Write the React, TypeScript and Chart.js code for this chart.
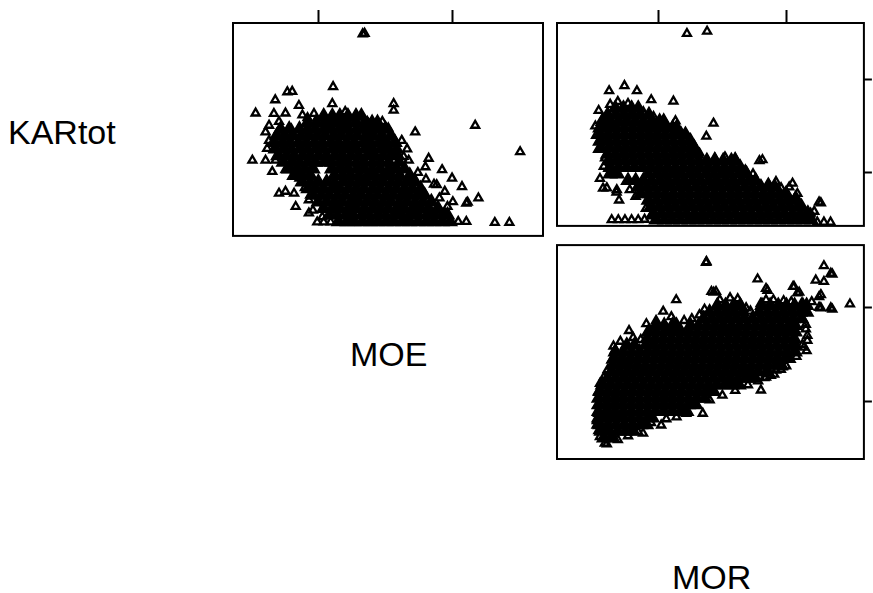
import React, { useEffect, useRef } from "react";
import { Chart, registerables } from "chart.js";

Chart.register(...registerables);

type Pair = [number, number];
type Row = [number, number[]];

// tick values (no labels are visible in the reference)
const moeTicks = [10, 15];
const morTicks = [50, 100];
const karTicks = [20, 30];

// ---------- KARtot (y) vs MOE (x): isolated / edge observations ----------
const karMoeSingles: Pair[] = [
  [11.65, 34.9], [11.72, 34.95],
  [8.85, 28.75], [9.03, 28.8], [10.55, 29.3], [8.4, 27.9], [7.67, 26.5], [8.35, 26.45], [8.78, 26.5],
  [9.28, 27.3], [10.52, 27.5], [9.41, 26.3], [9.84, 26.45], [11.0, 26.65], [11.82, 25.6], [12.38, 25.6],
  [11.87, 25.4], [8.17, 25.2], [8.54, 25.6], [8.04, 24.5], [8.17, 23.6], [8.1, 22.75], [7.55, 21.5],
  [8.04, 21.5], [8.41, 21.5], [8.29, 20.3], [8.78, 20.5], [9.16, 20.3], [8.54, 18.0], [8.78, 18.2],
  [9.1, 18.0], [9.16, 16.6], [9.65, 15.9], [10.15, 15.5], [9.96, 14.95], [10.2, 14.95], [10.46, 14.95],
  [9.65, 17.3], [12.8, 27.5], [12.8, 26.8], [13.6, 24.5], [15.83, 25.2], [17.5, 22.4], [14.1, 21.7],
  [13.98, 20.8], [14.6, 20.5], [14.97, 19.6], [14.4, 18.9], [14.3, 18.95], [15.34, 18.7], [14.7, 18.2],
  [15.0, 17.1], [15.5, 16.95], [15.55, 17.05], [15.95, 17.5], [14.7, 15.9], [15.2, 15.0], [16.56, 14.9],
  [17.1, 14.9], [13.17, 21.9], [13.36, 21.5], [13.9, 16.6], [14.2, 15.9],
  [9.6, 26.0], [10.2, 26.0], [10.9, 25.9], [11.4, 26.1], [12.0, 25.2], [12.6, 24.9], [13.1, 23.6],
  [13.3, 22.7], [13.7, 20.2], [14.0, 19.5], [14.5, 17.5], [14.8, 16.6], [15.5, 15.0], [9.0, 24.8],
  [8.6, 24.1], [8.5, 23.0], [8.55, 22.0], [8.9, 21.0], [9.3, 19.6], [9.5, 18.6], [9.7, 17.8],
  [9.8, 16.2], [10.75, 15.0], [11.05, 15.0],
];
// dense cluster: [KARtot, MOE values]
const karMoeClusterRows: Row[] = [
  [15.0, [10.75, 11.07, 11.33, 11.64, 11.93, 12.22, 12.52, 12.81, 13.12, 13.4, 13.71, 14.02, 14.3, 14.61, 14.9]],
  [15.7, [10.42, 10.71, 11.02, 11.3, 11.62, 11.9, 12.21, 12.5, 12.82, 13.1, 13.41, 13.7, 14.02, 14.3, 14.58, 14.8]],
  [16.4, [10.2, 10.52, 10.8, 11.12, 11.4, 11.71, 12.02, 12.3, 12.6, 12.92, 13.2, 13.52, 13.8, 14.1, 14.45]],
  [17.1, [10.0, 10.31, 10.62, 10.9, 11.22, 11.5, 11.81, 12.1, 12.42, 12.7, 13.02, 13.3, 13.61, 13.9, 14.2]],
  [17.8, [9.82, 10.12, 10.41, 10.72, 11.01, 11.32, 11.6, 11.91, 12.2, 12.51, 12.8, 13.11, 13.4, 13.7, 13.95]],
  [18.5, [9.62, 9.91, 10.2, 10.52, 10.8, 11.12, 11.41, 11.7, 12.02, 12.3, 12.61, 12.9, 13.21, 13.5, 13.8]],
  [19.2, [9.4, 9.71, 10.0, 10.31, 10.6, 10.92, 11.2, 11.51, 11.8, 12.12, 12.4, 12.72, 13.01, 13.3, 13.6]],
  [19.9, [9.1, 9.42, 9.7, 10.6, 10.91, 11.2, 11.52, 11.82, 12.1, 12.42, 12.7, 13.02, 13.4]],
  [20.6, [8.9, 9.21, 9.5, 9.8, 10.5, 10.81, 11.1, 11.42, 11.7, 12.01, 12.3, 12.62, 12.9, 13.2]],
  [21.3, [8.7, 9.02, 9.3, 9.61, 9.9, 10.22, 10.5, 10.81, 11.1, 11.42, 11.7, 12.02, 12.3, 12.62, 13.0]],
  [22.0, [8.5, 8.81, 9.1, 9.42, 9.7, 10.01, 10.3, 10.62, 10.9, 11.21, 11.5, 11.82, 12.1, 12.41, 12.7, 12.95]],
  [22.7, [8.4, 8.71, 9.0, 9.32, 9.6, 9.91, 10.2, 10.52, 10.8, 11.11, 11.4, 11.72, 12.0, 12.31, 12.6, 12.9]],
  [23.4, [8.35, 8.66, 8.95, 9.27, 9.55, 9.86, 10.15, 10.47, 10.75, 11.06, 11.35, 11.67, 11.95, 12.26, 12.55, 12.85]],
  [24.1, [8.45, 8.76, 9.05, 9.37, 9.65, 9.96, 10.25, 10.57, 10.85, 11.16, 11.45, 11.77, 12.05, 12.36, 12.7]],
  [24.8, [8.6, 8.92, 9.3, 9.61, 9.9, 10.22, 10.5, 10.81, 11.1, 11.42, 11.7, 12.0, 12.25, 12.5]],
  [25.5, [9.6, 9.91, 10.2, 10.52, 10.8, 11.11, 11.4, 11.72, 12.0, 12.2]],
  [26.2, [10.2, 10.52, 10.8, 11.1, 11.4, 11.6]],
];

// ---------- KARtot (y) vs MOR (x) ----------
const karMorSingles: Pair[] = [
  [61.1, 34.86], [69.0, 35.1], [30.6, 28.76], [36.6, 29.3], [41.5, 28.75], [26.5, 26.65], [47.1, 27.8],
  [55.8, 27.65], [71.5, 25.3], [68.7, 23.9], [56.6, 25.55], [26.3, 22.5], [27.0, 19.4], [89.5, 21.3],
  [90.7, 21.4], [112.9, 16.9], [113.6, 16.8], [109.6, 15.7], [111.0, 15.9], [112.2, 14.75], [114.8, 14.75],
  [117.4, 14.75], [31.6, 15.0], [34.2, 15.0], [36.8, 15.0], [39.4, 15.0], [42.0, 15.0], [44.5, 15.05],
  [28.2, 18.37], [29.7, 18.4], [33.5, 17.95], [33.6, 18.2], [38.7, 18.2], [34.5, 17.1], [96.0, 19.07],
  [101.2, 18.5], [102.5, 18.9], [104.4, 17.8], [103.8, 17.5],
  [28, 25.8], [31, 27.3], [34, 27.6], [38, 27.4], [44, 26.5], [48, 26.0], [52, 25.6], [58, 24.6],
  [62, 23.6], [64, 22.4], [66, 22.1], [72, 21.6], [76, 21.7], [80, 21.6], [84, 20.3], [87, 19.9],
  [93, 18.9], [98, 18.4], [106, 16.4], [108, 15.7], [43, 18.4], [41, 17.5], [45, 16.2], [47, 15.4],
  [25.5, 24.0], [25.2, 25.0], [28.5, 20.7], [29, 21.6],
];
// dense cluster: [KARtot, MOR values]
const karMorClusterRows: Row[] = [
  [15.0, [49, 52.3, 55.4, 58.6, 61.9, 65.0, 68.2, 71.5, 74.6, 77.8, 81.1, 84.2, 87.5, 90.6, 93.8, 97.0, 100.3, 103.4, 106.6, 109.8]],
  [15.7, [48, 51.2, 54.4, 57.7, 60.8, 64.1, 67.3, 70.4, 73.7, 76.9, 80.0, 83.3, 86.4, 89.7, 92.9, 96.1, 99.2, 102.5, 105.6, 108.5]],
  [16.4, [47, 50.3, 53.5, 56.6, 59.9, 63.0, 66.3, 69.4, 72.7, 75.8, 79.1, 82.2, 85.5, 88.6, 91.9, 95.0, 98.3, 101.4, 104.6, 106]],
  [17.1, [46, 49.2, 52.5, 55.6, 58.9, 62.0, 65.3, 68.4, 71.7, 74.8, 78.1, 81.2, 84.5, 87.6, 90.9, 94.0, 97.3, 100.4, 103.5]],
  [17.8, [43, 46.2, 49.4, 52.6, 55.8, 59.1, 62.2, 65.5, 68.6, 71.9, 75.0, 78.3, 81.4, 84.7, 87.8, 91.1, 94.2, 97.4, 100]],
  [18.5, [42, 45.3, 48.4, 51.7, 54.8, 58.1, 61.2, 64.5, 67.6, 70.9, 74.0, 77.3, 80.4, 83.7, 86.8, 90.1, 93.2, 95.5]],
  [19.2, [38, 41, 44, 47.2, 50.5, 53.6, 56.9, 60.0, 63.3, 66.4, 69.7, 72.8, 76.1, 79.2, 82.5, 85.6, 88]],
  [19.9, [31, 33.8, 46, 49.3, 52.4, 55.7, 58.8, 62.1, 65.2, 68.5, 71.6, 74.9, 78.0, 81.3, 84.5]],
  [20.6, [31, 34.2, 37.4, 40.6, 43.8, 47.0, 50.2, 53.4, 56.6, 59.8, 63.0, 66.2, 69.4, 72.6, 75.8, 79.0, 82]],
  [21.3, [30.5, 33.7, 36.9, 40.1, 43.3, 46.5, 49.7, 52.9, 56.1, 59.3, 62.5, 65.7, 68.9, 72.1, 75.3, 78.5, 80]],
  [22.0, [30, 33.2, 36.4, 39.6, 42.8, 46.0, 49.2, 52.4, 55.6, 58.8, 62.0, 65]],
  [22.7, [27.5, 30.7, 33.9, 37.1, 40.3, 43.5, 46.7, 49.9, 53.1, 56.3, 59.5, 62.7, 64]],
  [23.4, [27, 30.2, 33.4, 36.6, 39.8, 43.0, 46.2, 49.4, 52.6, 55.8, 59.0, 62.5]],
  [24.1, [27, 30.2, 33.4, 36.6, 39.8, 43.0, 46.2, 49.4, 52.6, 55.8, 58.8, 60.5]],
  [24.8, [27, 30.2, 33.4, 36.6, 39.8, 43.0, 46.2, 49.4, 52.6, 55.5, 57]],
  [25.5, [28, 31.2, 34.4, 37.6, 40.8, 44.0, 47.2, 50.4, 52]],
  [26.2, [30, 33.2, 36.4, 39.6, 42.8, 46.2]],
  [26.9, [33, 36.2, 39.4, 42]],
];

// ---------- MOE (y) vs MOR (x) ----------
const moeMorSingles: Pair[] = [
  [68.6, 17.37], [68.75, 17.42], [114.8, 17.2], [118.1, 16.76], [111.6, 16.44], [114.8, 16.37], [117.5, 16.8],
  [88.8, 16.5], [92.7, 15.9], [92.1, 15.4], [102.7, 16.1], [105.1, 15.8], [112.9, 15.56], [112.9, 15.0],
  [118.1, 14.9], [125.0, 15.18], [71.6, 15.8], [70.7, 15.84], [56.9, 15.4], [38.4, 13.77], [45.2, 14.13],
  [47.8, 13.86], [53.1, 13.92], [51.8, 14.79], [32.8, 12.72], [32.3, 12.95], [26.3, 10.53], [27.0, 10.97],
  [29.0, 11.1], [27.0, 8.16], [28.9, 7.81], [30.9, 8.07], [25.7, 8.77], [26.3, 9.39], [25.8, 9.0],
  [26.4, 8.47], [29.7, 7.77], [31.6, 8.13], [29.7, 9.62], [43.9, 8.34], [51.0, 8.77], [60.8, 9.39],
  [67.3, 9.39], [62.2, 9.88], [64.8, 10.23], [90.1, 10.62], [98.6, 11.84], [96.0, 11.67], [97.9, 11.72],
  [95.3, 11.46], [91.4, 11.28], [107.7, 13.86], [108.3, 13.51], [108.3, 13.25], [107.0, 12.89],
  [107.7, 14.09], [106.4, 13.04], [84.3, 11.5], [92.1, 11.3], [113.6, 14.97], [117.5, 14.97],
  [113.6, 15.67], [75.8, 15.05], [80.4, 15.05], [84.3, 14.97], [72.5, 15.84], [92.1, 16.0], [103.1, 16.1],
  [104.4, 15.76],
  [35, 13.2], [40, 13.4], [43, 13.3], [49, 14.3], [55, 14.5], [60, 14.3], [63, 14.4], [66, 14.6],
  [68, 14.9], [74, 15.4], [78, 15.5], [81, 15.45], [86, 14.8], [90, 15.2], [95, 15.4], [99, 15.35],
  [102, 15.3], [106, 15.2], [110, 15.3], [34, 8.0], [38, 8.2], [42, 8.4], [47, 8.9], [53, 9.1],
  [57, 9.2], [70, 10.1], [75, 10.35], [80, 10.6], [85, 10.9], [89, 11.1], [94, 11.4], [100, 11.9],
  [104, 12.4], [108, 12.7], [27, 9.8], [26.5, 10.2], [28.5, 11.3], [30, 11.7], [31.5, 12.2],
];
// dense cluster: [MOE, MOR values]
const moeMorClusterRows: Row[] = [
  [8.1, [28.5, 32]],
  [8.45, [27.5, 30.6, 33.9, 37.0, 40.0]],
  [8.8, [27, 30.2, 33.4, 36.6, 39.8, 43.0, 45.2]],
  [9.15, [26.5, 29.7, 32.9, 36.1, 39.3, 42.5, 45.7, 47.5]],
  [9.5, [26.5, 29.7, 32.9, 36.1, 39.3, 42.5, 45.7, 48.9, 52.1, 55.3, 58.5, 61]],
  [9.85, [26.5, 29.7, 32.9, 36.1, 39.3, 42.5, 45.7, 48.9, 52.1, 55.3, 58.5, 61.7, 64.5]],
  [10.2, [26.5, 29.7, 32.9, 36.1, 39.3, 42.5, 45.7, 48.9, 52.1, 55.3, 58.5, 61.7, 64.9, 68]],
  [10.55, [27, 30.2, 33.4, 36.6, 39.8, 43.0, 46.2, 49.4, 52.6, 55.8, 59.0, 62.2, 65.4, 68.6, 71.5]],
  [10.9, [28, 31.2, 34.4, 37.6, 40.8, 44.0, 47.2, 50.4, 53.6, 56.8, 60.0, 63.2, 66.4, 69.6, 72.8, 76.0, 78.8, 81.5]],
  [11.25, [30, 33.2, 36.4, 39.6, 42.8, 46.0, 49.2, 52.4, 55.6, 58.8, 62.0, 65.2, 68.4, 71.6, 74.8, 78.0, 81.2, 84.4, 87.5]],
  [11.6, [31.5, 34.7, 37.9, 41.1, 44.3, 47.5, 50.7, 53.9, 57.1, 60.3, 63.5, 66.7, 69.9, 73.1, 76.3, 79.5, 82.7, 85.9, 89.1, 92.5]],
  [11.95, [32, 35.2, 38.4, 41.6, 44.8, 48.0, 51.2, 54.4, 57.6, 60.8, 64.0, 67.2, 70.4, 73.6, 76.8, 80.0, 83.2, 86.4, 89.6, 92.8, 96.0, 98]],
  [12.3, [32.5, 35.7, 38.9, 42.1, 45.3, 48.5, 51.7, 54.9, 58.1, 61.3, 64.5, 67.7, 70.9, 74.1, 77.3, 80.5, 83.7, 86.9, 90.1, 93.3, 96.5, 99.7, 101]],
  [12.65, [33, 36.2, 39.4, 42.6, 45.8, 49.0, 52.2, 55.4, 58.6, 61.8, 65.0, 68.2, 71.4, 74.6, 77.8, 81.0, 84.2, 87.4, 90.6, 93.8, 97.0, 100.2, 103.5]],
  [13.0, [37.5, 40.5, 45, 48.2, 51.4, 54.6, 57.8, 61.0, 64.2, 67.4, 70.6, 73.8, 77.0, 80.2, 83.4, 86.6, 89.8, 93.0, 96.2, 99.4, 102.6, 103.5]],
  [13.35, [45.5, 48.7, 51.9, 55.1, 58.3, 61.5, 64.7, 67.9, 71.1, 74.3, 77.5, 80.7, 83.9, 87.1, 90.3, 93.5, 96.7, 99.9, 103.1]],
  [13.7, [46, 49.2, 52.4, 55.6, 58.8, 62.0, 65.2, 68.4, 71.6, 74.8, 78.0, 81.2, 84.4, 87.6, 90.8, 94.0, 97.2, 100.4, 103.5]],
  [14.05, [49, 52.2, 55.4, 57, 62.5, 65.7, 68.9, 72.1, 75.3, 78.5, 81.7, 84.9, 88.1, 91.3, 94.5, 97.7, 100.9, 103.5]],
  [14.4, [67.6, 70.8, 74.0, 77.2, 80.4, 83.6, 86.8, 90.0, 93.2, 96.4, 99.6, 102.8, 106]],
  [14.75, [70, 73.2, 76.4, 79.6, 82.8, 89.5, 92.7, 95.9, 99.1, 102.3, 105.5, 108]],
  [15.1, [73, 76.2, 79.4, 82, 90.5, 93.7, 96.9, 100.1, 103.3, 106.5, 108]],
];

const toPoints = (pairs: Pair[]) => pairs.map(([x, y]) => ({ x, y }));
const rowsToPoints = (rows: Row[]) => rows.flatMap(([y, xs]) => xs.map((x) => ({ x, y })));

const framePlugin = {
  id: "panelFrame",
  afterDatasetsDraw(chart: any) {
    const { ctx, chartArea } = chart;
    const { left, top, right, bottom } = chartArea;
    ctx.save();
    ctx.strokeStyle = "#000";
    ctx.lineWidth = 2;
    ctx.strokeRect(left, top, right - left, bottom - top);
    ctx.restore();
  },
};

function axisOptions(range: [number, number], ticks: number[] | null, position: string, len: number) {
  return {
    type: "linear",
    position,
    min: range[0],
    max: range[1],
    display: ticks !== null,
    afterBuildTicks: (scale: any) => {
      scale.ticks = (ticks ?? []).map((v) => ({ value: v }));
    },
    ticks: { display: false },
    grid: {
      display: true,
      drawOnChartArea: false,
      drawTicks: true,
      tickLength: len,
      tickWidth: 2,
      tickColor: "#000",
    },
    border: { display: false },
  };
}

interface PanelProps {
  x: number;
  y: number;
  w: number;
  h: number;
  pad: { left: number; right: number; top: number; bottom: number };
  xRange: [number, number];
  yRange: [number, number];
  xTicks: number[] | null;
  yTicks: number[] | null;
  singles: Pair[];
  rows: Row[];
}

function Panel(p: PanelProps) {
  const ref = useRef<HTMLCanvasElement>(null);
  useEffect(() => {
    const chart = new Chart(ref.current as HTMLCanvasElement, {
      type: "scatter",
      data: {
        datasets: [
          {
            label: "obs",
            data: toPoints(p.singles),
            pointStyle: "triangle",
            pointRadius: 4.6,
            pointBorderWidth: 2.3,
            pointBorderColor: "#000",
            pointBackgroundColor: "rgba(0,0,0,0)",
            order: 1,
          },
          {
            label: "obs-dense",
            data: rowsToPoints(p.rows),
            pointStyle: "triangle",
            pointRadius: 7.6,
            pointBorderWidth: 1.5,
            pointBorderColor: "#000",
            pointBackgroundColor: "#000",
            order: 2,
          },
        ],
      },
      options: {
        responsive: false,
        animation: false,
        devicePixelRatio: 1,
        events: [],
        layout: { padding: p.pad },
        plugins: { legend: { display: false }, tooltip: { enabled: false } },
        scales: {
          x: axisOptions(p.xRange, p.xTicks, "top", 13) as any,
          y: axisOptions(p.yRange, p.yTicks, "right", 8) as any,
        },
      },
      plugins: [framePlugin],
    });
    return () => chart.destroy();
  }, []);
  return (
    <canvas
      ref={ref}
      width={p.w}
      height={p.h}
      style={{ position: "absolute", left: p.x, top: p.y, width: p.w, height: p.h }}
    />
  );
}

const labelStyle: React.CSSProperties = {
  position: "absolute",
  fontFamily: '"Liberation Sans", Arial, Helvetica, sans-serif',
  fontSize: 34,
  lineHeight: "34px",
  color: "#000",
  whiteSpace: "nowrap",
};

export default function App() {
  return (
    <div style={{ position: "absolute", left: 0, top: 0, width: 873, height: 593, background: "#fff", overflow: "hidden" }}>
      <Panel
        x={220} y={0} w={340} h={245}
        pad={{ left: 13, right: 17, top: 10, bottom: 9 }}
        xRange={[6.83, 18.35]} yRange={[13.49, 36.06]}
        xTicks={moeTicks} yTicks={null}
        singles={karMoeSingles} rows={karMoeClusterRows}
      />
      <Panel
        x={545} y={0} w={328} h={235}
        pad={{ left: 12, right: 0, top: 10, bottom: 9 }}
        xRange={[10.16, 130.47]} yRange={[14.36, 35.99]}
        xTicks={morTicks} yTicks={karTicks}
        singles={karMorSingles} rows={karMorClusterRows}
      />
      <Panel
        x={545} y={236} w={328} h={234}
        pad={{ left: 12, right: 0, top: 8, bottom: 11 }}
        xRange={[10.16, 130.47]} yRange={[6.98, 18.3]}
        xTicks={null} yTicks={moeTicks}
        singles={moeMorSingles} rows={moeMorClusterRows}
      />
      <div style={{ ...labelStyle, left: 8, top: 115 }}>KARtot</div>
      <div style={{ ...labelStyle, left: 350, top: 337 }}>MOE</div>
      <div style={{ ...labelStyle, left: 672, top: 560 }}>MOR</div>
    </div>
  );
}
